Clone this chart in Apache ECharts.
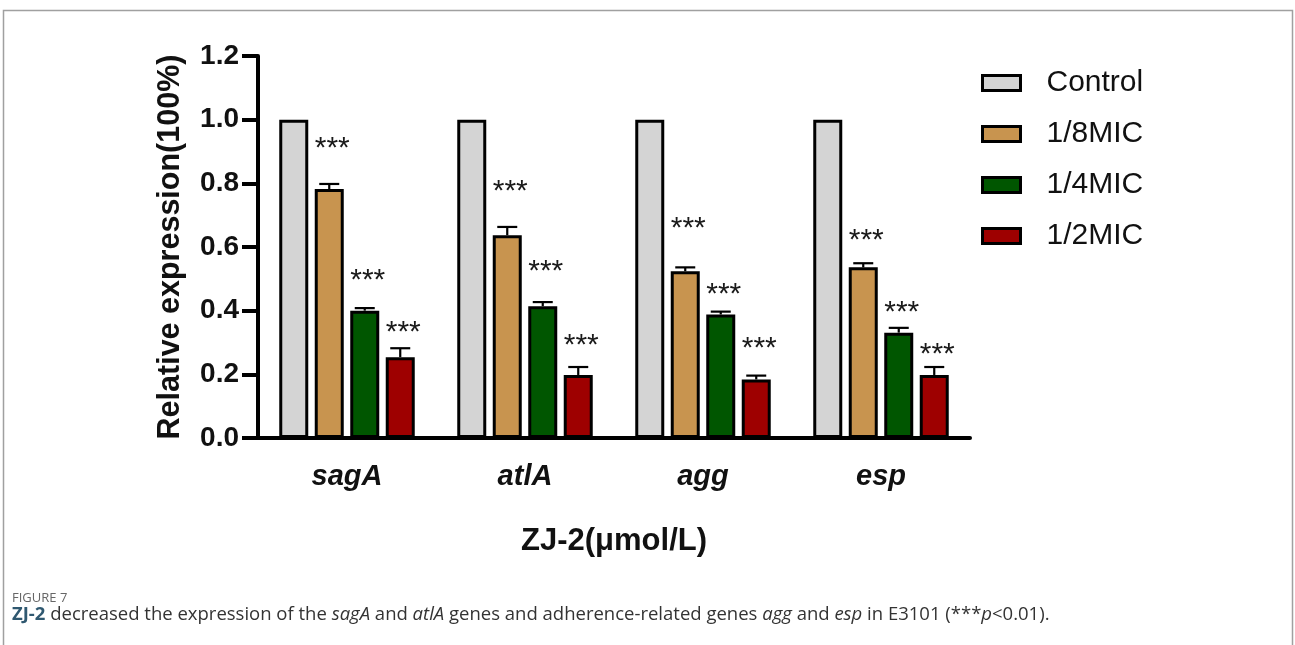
<!DOCTYPE html>
<html>
<head>
<meta charset="utf-8">
<script src="https://cdn.jsdelivr.net/npm/echarts@6/dist/echarts.min.js"></script>
<style>
html,body{margin:0;padding:0;background:#fff;}
#chart{width:1295px;height:645px;}
</style>
</head>
<body>
<div id="chart"></div>
<script>
// ---- data ----
var categories = ['sagA', 'atlA', 'agg', 'esp'];
var seriesNames = ['Control', '1/8MIC', '1/4MIC', '1/2MIC'];
var controlVals = [1.0, 1.0, 1.0, 1.0];
var mic8Vals = [0.782, 0.637, 0.524, 0.536];
var mic4Vals = [0.400, 0.414, 0.388, 0.331];
var mic2Vals = [0.254, 0.198, 0.184, 0.198];
var mic8Err = [0.016, 0.026, 0.012, 0.013];
var mic4Err = [0.008, 0.013, 0.009, 0.015];
var mic2Err = [0.028, 0.025, 0.012, 0.025];
// height (in axis units) of the "***" significance marks
var mic8Star = [0.927, 0.792, 0.675, 0.638];
var mic4Star = [0.512, 0.541, 0.470, 0.413];
var mic2Star = [0.349, 0.310, 0.298, 0.280];
var yTicks = [0, 0.2, 0.4, 0.6, 0.8, 1.0, 1.2];

// ---- style ----
var colors = ['#d4d4d4', '#c8944f', '#005600', '#9e0000'];
var FONT = '"Liberation Sans", Arial, Helvetica, sans-serif';
var CAP_FONT = '"Open Sans", "Noto Sans", sans-serif';
var BAR_W = 29;
var BAR_GAP = 0.224; // fraction of bar width

function errRender(k) {
  return function (params, api) {
    var cat = api.value(0), v = api.value(1), e = api.value(2), s = api.value(3);
    var base = api.coord([cat, v]);
    var step = BAR_W * (1 + BAR_GAP);
    var x = base[0] + (k - 1.5) * step;
    var yTop = api.coord([cat, v + e])[1];
    var sy = api.coord([cat, s])[1];
    return {
      type: 'group',
      children: [
        { type: 'line', shape: { x1: x, y1: base[1], x2: x, y2: yTop }, style: { stroke: '#000', lineWidth: 2.2 } },
        { type: 'line', shape: { x1: x - 10, y1: yTop, x2: x + 10, y2: yTop }, style: { stroke: '#000', lineWidth: 2.2 } },
        { type: 'text', x: x + 3, y: sy + 6, style: { text: '***', fontSize: 30, fontFamily: FONT, align: 'center', verticalAlign: 'middle', fill: '#1a1a1a' } }
      ]
    };
  };
}

function errData(vals, errs, stars) {
  return vals.map(function (v, i) { return [i, v, errs[i], stars[i]]; });
}

var allVals = [controlVals, mic8Vals, mic4Vals, mic2Vals];
var series = allVals.map(function (vals, i) {
  return {
    name: seriesNames[i],
    type: 'bar',
    data: vals,
    barWidth: BAR_W,
    barGap: (BAR_GAP * 100) + '%',
    itemStyle: { color: colors[i], borderColor: '#000', borderWidth: 3 },
    z: 2
  };
});
[[mic8Vals, mic8Err, mic8Star], [mic4Vals, mic4Err, mic4Star], [mic2Vals, mic2Err, mic2Star]].forEach(function (d, j) {
  series.push({
    type: 'custom',
    name: 'err' + j,
    renderItem: errRender(j + 1),
    data: errData(d[0], d[1], d[2]),
    encode: { x: 0, y: 1 },
    z: 5,
    silent: true
  });
});

var chart = echarts.init(document.getElementById('chart'));
chart.setOption({
  animation: false,
  backgroundColor: '#fff',
  grid: { left: 258, top: 56, width: 712, height: 382, containLabel: false },
  legend: {
    data: seriesNames,
    orient: 'vertical',
    left: 976,
    top: 63,
    itemWidth: 38,
    itemHeight: 15,
    itemGap: 21,
    icon: 'rect',
    itemStyle: { borderColor: '#000', borderWidth: 3 },
    textStyle: { fontFamily: FONT, fontSize: 30, color: '#111', padding: [0, 0, 0, 21] }
  },
  xAxis: {
    type: 'category',
    data: categories,
    name: 'ZJ-2(\u03bcmol/L)',
    nameLocation: 'middle',
    nameGap: 88,
    nameTextStyle: { fontFamily: FONT, fontSize: 31, fontWeight: 'bold', color: '#111' },
    axisLine: { lineStyle: { color: '#000', width: 4 } },
    axisTick: { alignWithLabel: true, length: 16, lineStyle: { color: '#000', width: 4 } },
    axisLabel: { fontFamily: FONT, fontSize: 29, fontWeight: 'bold', fontStyle: 'italic', color: '#111', margin: 24 }
  },
  yAxis: {
    type: 'value',
    min: yTicks[0],
    max: yTicks[yTicks.length - 1],
    interval: 0.2,
    name: 'Relative expression(100%)',
    nameLocation: 'middle',
    nameGap: 72,
    nameTextStyle: { fontFamily: FONT, fontSize: 30.5, fontWeight: 'bold', color: '#111' },
    axisLine: { show: true, lineStyle: { color: '#000', width: 4 } },
    axisTick: { show: true, length: 16, lineStyle: { color: '#000', width: 4 } },
    splitLine: { show: false },
    axisLabel: {
      fontFamily: FONT, fontSize: 28, fontWeight: 'bold', color: '#111', margin: 19,
      formatter: function (v) { return v.toFixed(1); }
    }
  },
  series: series,
  graphic: [
    { type: 'polyline', shape: { points: [[3.5, 645], [3.5, 10.5], [1292.5, 10.5], [1292.5, 645]] }, style: { stroke: '#a0a0a0', lineWidth: 1.5, fill: null }, silent: true },
    { type: 'text', left: 12, top: 592, style: { text: 'FIGURE 7', fontFamily: CAP_FONT, fontSize: 13, fill: '#666' } },
    {
      type: 'text', left: 12, top: 605,
      style: {
        text: '{b|ZJ-2} {n|decreased the expression of the }{i|sagA}{n| and }{i|atlA}{n| genes and adherence-related genes }{i|agg}{n| and }{i|esp}{n| in E3101 (***}{i|p}{n|<0.01).}',
        fontFamily: CAP_FONT, fontSize: 18.5, fill: '#333',
        rich: {
          b: { fontFamily: CAP_FONT, fontSize: 18.5, fontWeight: 'bold', fill: '#2f5870' },
          n: { fontFamily: CAP_FONT, fontSize: 18.5, fill: '#333' },
          i: { fontFamily: CAP_FONT, fontSize: 18.5, fontStyle: 'italic', fill: '#333' }
        }
      }
    }
  ]
});
</script>
</body>
</html>
